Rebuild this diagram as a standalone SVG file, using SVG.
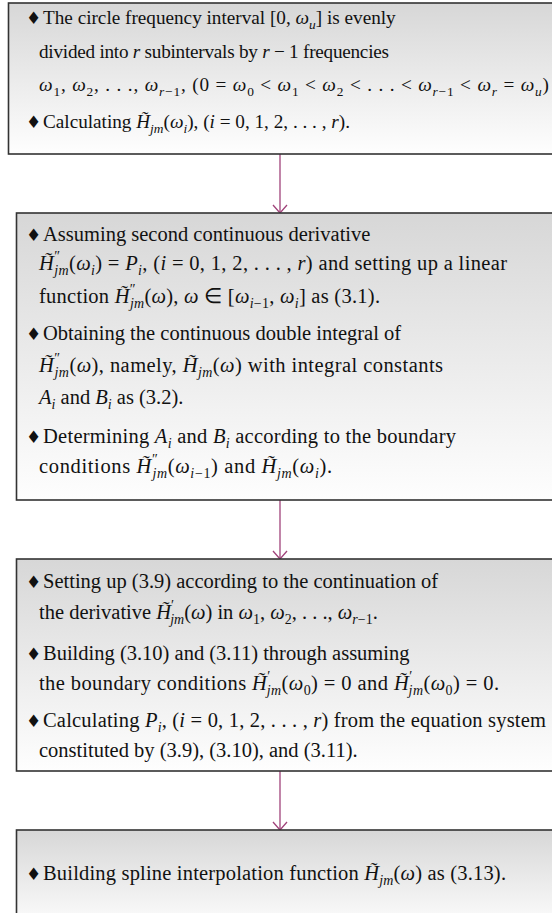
<svg xmlns="http://www.w3.org/2000/svg" width="552" height="913" viewBox="0 0 552 913">
<style>
text{font-family:"Liberation Serif","Times New Roman",serif;font-size:20.5px;fill:#111}
.b1 text{font-size:19.2px}
.i{font-style:italic}
.s{font-size:14px}
.b1 .s{font-size:13.4px}
.p{font-size:14px}
text.d{font-family:"DejaVu Sans",sans-serif;font-size:17px}
.box{fill:url(#g);stroke:#333;stroke-width:1.6}
.c{stroke:#a0437a;stroke-width:1.3;fill:none}
</style>
<defs>
<linearGradient id="g" x1="0" y1="0" x2="0" y2="1">
<stop offset="0" stop-color="#d7d7d7"/>
<stop offset="1" stop-color="#fefefe"/>
</linearGradient>
<marker id="a" markerWidth="12" markerHeight="20" refX="10" refY="10" markerUnits="userSpaceOnUse" orient="auto" viewBox="0 0 12 20">
<path d="M2,3 L10,10 L2,17" fill="none" stroke="#a0437a" stroke-width="1.3"/>
</marker>
</defs>

<g id="connectors">
<line class="c" x1="280" y1="154" x2="280" y2="213" marker-end="url(#a)"/>
<line class="c" x1="280" y1="500" x2="280" y2="559" marker-end="url(#a)"/>
<line class="c" x1="280" y1="771" x2="280" y2="830" marker-end="url(#a)"/>
</g>

<g id="node1" class="b1">
<rect class="box" x="8.5" y="3" width="580" height="151"/>
<text class="d" x="26" y="24">♦</text>
<text x="43" y="24">The circle frequency interval [0, <tspan class="i">ω</tspan><tspan class="s i" dy="4.5">u</tspan><tspan dy="-4.5">] is evenly</tspan></text>
<text x="39" y="58" textLength="350" lengthAdjust="spacing">divided into <tspan class="i">r</tspan> subintervals by <tspan class="i">r</tspan> − 1 frequencies</text>
<text x="39" y="91" textLength="510" lengthAdjust="spacing"><tspan class="i">ω</tspan><tspan class="s" dy="4.5">1</tspan><tspan dy="-4.5">, </tspan><tspan class="i">ω</tspan><tspan class="s" dy="4.5">2</tspan><tspan dy="-4.5">, . . ., </tspan><tspan class="i">ω</tspan><tspan class="s" dy="4.5"><tspan class="i">r</tspan>−1</tspan><tspan dy="-4.5">, (0 = </tspan><tspan class="i">ω</tspan><tspan class="s" dy="4.5">0</tspan><tspan dy="-4.5"> &lt; </tspan><tspan class="i">ω</tspan><tspan class="s" dy="4.5">1</tspan><tspan dy="-4.5"> &lt; </tspan><tspan class="i">ω</tspan><tspan class="s" dy="4.5">2</tspan><tspan dy="-4.5"> &lt; . . . &lt; </tspan><tspan class="i">ω</tspan><tspan class="s" dy="4.5"><tspan class="i">r</tspan>−1</tspan><tspan dy="-4.5"> &lt; </tspan><tspan class="i">ω</tspan><tspan class="s i" dy="4.5">r</tspan><tspan dy="-4.5"> = </tspan><tspan class="i">ω</tspan><tspan class="s i" dy="4.5">u</tspan><tspan dy="-4.5">)</tspan></text>
<text class="d" x="26" y="128">♦</text>
<text x="43" y="128">Calculating <tspan class="i">H&#x303;</tspan><tspan class="s i" dy="4.5">jm</tspan><tspan dy="-4.5">(</tspan><tspan class="i">ω</tspan><tspan class="s i" dy="4.5">i</tspan><tspan dy="-4.5">), (</tspan><tspan class="i">i</tspan> = 0, 1, 2, . . . , <tspan class="i">r</tspan>).</text>
</g>

<g id="node2">
<rect class="box" x="16.5" y="213" width="580" height="287"/>
<text class="d" x="26" y="241">♦</text>
<text x="43" y="241">Assuming second continuous derivative</text>
<text x="39" y="270" textLength="468" lengthAdjust="spacing"><tspan class="i">H&#x303;</tspan><tspan class="p" dy="-9">″</tspan><tspan class="s i" dx="-6" dy="13.5">jm</tspan><tspan dy="-4.5">(</tspan><tspan class="i">ω</tspan><tspan class="s i" dy="4.5">i</tspan><tspan dy="-4.5">) = </tspan><tspan class="i">P</tspan><tspan class="s i" dy="4.5">i</tspan><tspan dy="-4.5">, (</tspan><tspan class="i">i</tspan> = 0, 1, 2, . . . , <tspan class="i">r</tspan>) and setting up a linear</text>
<text x="39" y="303" textLength="341" lengthAdjust="spacing">function <tspan class="i">H&#x303;</tspan><tspan class="p" dy="-9">″</tspan><tspan class="s i" dx="-6" dy="13.5">jm</tspan><tspan dy="-4.5">(</tspan><tspan class="i">ω</tspan>), <tspan class="i">ω</tspan> ∈ [<tspan class="i">ω</tspan><tspan class="s" dy="4.5"><tspan class="i">i</tspan>−1</tspan><tspan dy="-4.5">, </tspan><tspan class="i">ω</tspan><tspan class="s i" dy="4.5">i</tspan><tspan dy="-4.5">] as (3.1).</tspan></text>
<text class="d" x="26" y="340">♦</text>
<text x="43" y="340">Obtaining the continuous double integral of</text>
<text x="39" y="372" textLength="404" lengthAdjust="spacing"><tspan class="i">H&#x303;</tspan><tspan class="p" dy="-9">″</tspan><tspan class="s i" dx="-6" dy="13.5">jm</tspan><tspan dy="-4.5">(</tspan><tspan class="i">ω</tspan>), namely, <tspan class="i">H&#x303;</tspan><tspan class="s i" dy="4.5">jm</tspan><tspan dy="-4.5">(</tspan><tspan class="i">ω</tspan>) with integral constants</text>
<text x="39" y="404"><tspan class="i">A</tspan><tspan class="s i" dy="4.5">i</tspan><tspan dy="-4.5"> and </tspan><tspan class="i">B</tspan><tspan class="s i" dy="4.5">i</tspan><tspan dy="-4.5"> as (3.2).</tspan></text>
<text class="d" x="26" y="443">♦</text>
<text x="43" y="443" textLength="413" lengthAdjust="spacing">Determining <tspan class="i">A</tspan><tspan class="s i" dy="4.5">i</tspan><tspan dy="-4.5"> and </tspan><tspan class="i">B</tspan><tspan class="s i" dy="4.5">i</tspan><tspan dy="-4.5"> according to the boundary</tspan></text>
<text x="39" y="473" textLength="293" lengthAdjust="spacing">conditions <tspan class="i">H&#x303;</tspan><tspan class="p" dy="-9">″</tspan><tspan class="s i" dx="-6" dy="13.5">jm</tspan><tspan dy="-4.5">(</tspan><tspan class="i">ω</tspan><tspan class="s" dy="4.5"><tspan class="i">i</tspan>−1</tspan><tspan dy="-4.5">) and </tspan><tspan class="i">H&#x303;</tspan><tspan class="s i" dy="4.5">jm</tspan><tspan dy="-4.5">(</tspan><tspan class="i">ω</tspan><tspan class="s i" dy="4.5">i</tspan><tspan dy="-4.5">).</tspan></text>
</g>

<g id="node3">
<rect class="box" x="16.5" y="559" width="580" height="212"/>
<text class="d" x="26" y="588">♦</text>
<text x="43" y="588">Setting up (3.9) according to the continuation of</text>
<text x="39" y="619">the derivative <tspan class="i">H&#x303;</tspan><tspan class="p" dy="-9">′</tspan><tspan class="s i" dx="-4" dy="13.5">jm</tspan><tspan dy="-4.5">(</tspan><tspan class="i">ω</tspan>) in <tspan class="i">ω</tspan><tspan class="s" dy="4.5">1</tspan><tspan dy="-4.5">, </tspan><tspan class="i">ω</tspan><tspan class="s" dy="4.5">2</tspan><tspan dy="-4.5">, . . ., </tspan><tspan class="i">ω</tspan><tspan class="s" dy="4.5"><tspan class="i">r</tspan>−1</tspan><tspan dy="-4.5">.</tspan></text>
<text class="d" x="26" y="660">♦</text>
<text x="43" y="660">Building (3.10) and (3.11) through assuming</text>
<text x="39" y="690" textLength="460" lengthAdjust="spacing">the boundary conditions <tspan class="i">H&#x303;</tspan><tspan class="p" dy="-9">′</tspan><tspan class="s i" dx="-4" dy="13.5">jm</tspan><tspan dy="-4.5">(</tspan><tspan class="i">ω</tspan><tspan class="s" dy="4.5">0</tspan><tspan dy="-4.5">) = 0 and </tspan><tspan class="i">H&#x303;</tspan><tspan class="p" dy="-9">′</tspan><tspan class="s i" dx="-4" dy="13.5">jm</tspan><tspan dy="-4.5">(</tspan><tspan class="i">ω</tspan><tspan class="s" dy="4.5">0</tspan><tspan dy="-4.5">) = 0.</tspan></text>
<text class="d" x="26" y="727">♦</text>
<text x="43" y="727" textLength="503" lengthAdjust="spacing">Calculating <tspan class="i">P</tspan><tspan class="s i" dy="4.5">i</tspan><tspan dy="-4.5">, (</tspan><tspan class="i">i</tspan> = 0, 1, 2, . . . , <tspan class="i">r</tspan>) from the equation system</text>
<text x="39" y="757">constituted by (3.9), (3.10), and (3.11).</text>
</g>

<g id="node4">
<rect class="box" x="16.5" y="830" width="580" height="100"/>
<text class="d" x="26" y="880">♦</text>
<text x="43" y="880" textLength="463" lengthAdjust="spacing">Building spline interpolation function <tspan class="i">H&#x303;</tspan><tspan class="s i" dy="4.5">jm</tspan><tspan dy="-4.5">(</tspan><tspan class="i">ω</tspan>) as (3.13).</text>
</g>
</svg>
